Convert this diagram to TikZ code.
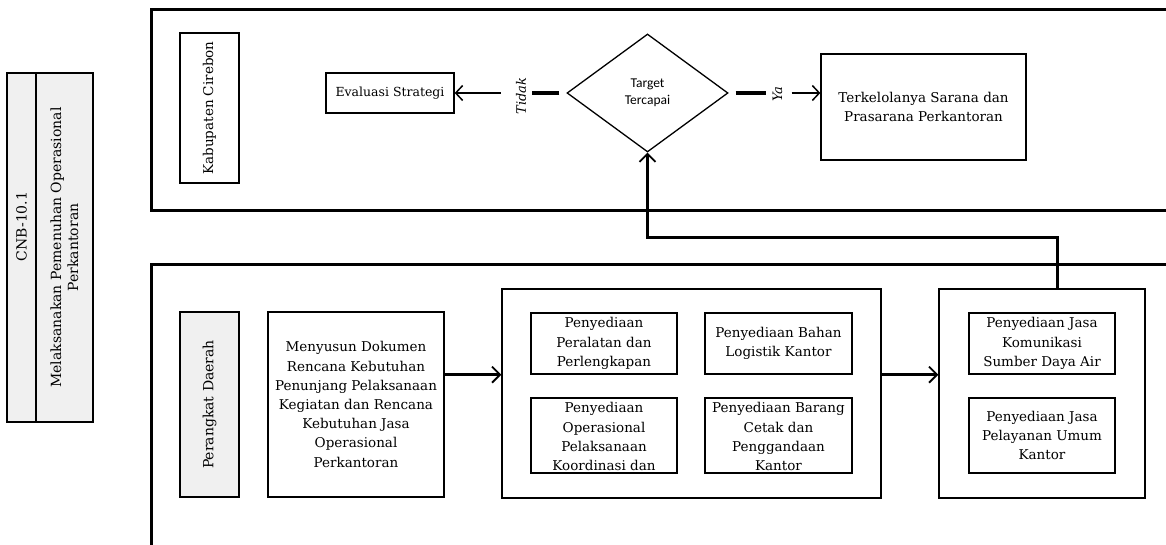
\documentclass[tikz,border=0pt]{standalone}
\usepackage{fontspec}
\setmainfont{DejaVu Serif}
\newfontfamily\diafont{Carlito}
\usetikzlibrary{shapes.geometric,arrows.meta,calc}
\newcommand\ovf[1]{\raisebox{-12pt}{\smash{\begin{tabular}{@{}c@{}}#1\end{tabular}}}}
\tikzset{
  box/.style={draw, line width=1.3pt, inner sep=2pt, align=center,
    font=\fontsize{13.5}{19.2}\selectfont},
  graybox/.style={box, fill=gray!12},
  lane/.style={line width=3pt},
  arr/.style={-{Straight Barb[length=7pt,width=15pt,line width=1.5pt]}, line width=1.5pt},
  bigarr/.style={-{Straight Barb[length=8pt,width=16pt,line width=1.8pt]}, line width=3pt},
  yesno/.style={line width=4pt},
  lbl/.style={rotate=90, inner sep=6pt, font=\itshape\fontsize{13}{15}\selectfont}
}
\begin{document}
\begin{tikzpicture}[x=1pt,y=-1pt]
\useasboundingbox (0,0) rectangle (1166,545);
% left title box
\node[graybox, rotate=90, minimum width=349pt, minimum height=29pt, font=\fontsize{14}{17}\selectfont] (cnbA) at (21.5,247.5) {\hspace*{42pt}CNB-10.1};
\node[graybox, rotate=90, minimum width=349pt, minimum height=57pt, font=\fontsize{14}{17}\selectfont] (cnbB) at (64.5,247.5) {Melaksanakan Pemenuhan Operasional\\Perkantoran};
% lanes
\draw[lane] (1180,10) -- (151,10) -- (151,211) -- (1180,211);
\draw[lane] (1180,264) -- (151,264) -- (151,560);
% top lane
\node[box, rotate=90, minimum width=150pt, minimum height=59pt, font=\fontsize{13.5}{17}\selectfont] (kab) at (209.5,108) {Kabupaten Cirebon};
\node[box, minimum width=128pt, minimum height=40pt, font=\fontsize{12.5}{17}\selectfont] (eval) at (390,93) {Evaluasi Strategi};
\node[diamond, draw, line width=1.3pt, minimum width=161pt, minimum height=118pt, inner sep=0pt, align=center, font=\diafont\fontsize{13.5}{17}\selectfont] (dia) at (647.5,93) {Target\\Tercapai};
\node[box, minimum width=205pt, minimum height=106pt] (terk) at (923.5,107) {Terkelolanya Sarana dan\\Prasarana Perkantoran};
\node[lbl] (tidak) at (521,96) {Tidak};
\node[lbl] (ya) at (777.5,94) {Ya};
\draw[yesno, shorten <=7pt] (dia.west) -- (tidak.south |- dia.west);
\draw[arr, shorten <=9pt] (tidak.north |- eval.east) -- (eval.east);
\draw[yesno, shorten <=7pt] (dia.east) -- (ya.north |- dia.east);
\draw[arr, shorten <=3pt] (ya.south |- dia.east) -- (terk.west |- dia.east);
% bottom lane
\node[graybox, rotate=90, minimum width=185pt, minimum height=59pt, font=\fontsize{14}{17}\selectfont] (per) at (209.5,404.5) {Perangkat Daerah};
\node[box, minimum width=176pt, minimum height=185pt] (meny) at (356,404.5) {Menyusun Dokumen\\Rencana Kebutuhan\\Penunjang Pelaksanaan\\Kegiatan dan Rencana\\Kebutuhan Jasa\\Operasional\\Perkantoran};
\node[box, minimum width=379pt, minimum height=209pt] (grp1) at (691.5,393.5) {};
\node[box, minimum width=146pt, minimum height=61pt] (b1) at (604,343.5) {Penyediaan\\Peralatan dan\\Perlengkapan};
\node[box, minimum width=147pt, minimum height=61pt] (b2) at (778.5,343.5) {Penyediaan Bahan\\Logistik Kantor};
\node[box, minimum width=146pt, minimum height=75pt] (b3) at (604,435.5) {\ovf{Penyediaan\\Operasional\\Pelaksanaan\\Koordinasi dan}};
\node[box, minimum width=147pt, minimum height=75pt] (b4) at (778.5,435.5) {\ovf{Penyediaan Barang\\Cetak dan\\Penggandaan\\Kantor}};
\node[box, minimum width=206pt, minimum height=209pt] (grp2) at (1042,393.5) {};
\node[box, minimum width=146pt, minimum height=61pt] (b5) at (1042,343.5) {Penyediaan Jasa\\Komunikasi\\Sumber Daya Air};
\node[box, minimum width=146pt, minimum height=75pt] (b6) at (1042,435.5) {Penyediaan Jasa\\Pelayanan Umum\\Kantor};
\draw[bigarr] (meny.east |- b1.south) -- (grp1.west |- b1.south);
\draw[bigarr] (grp1.east |- b1.south) -- (grp2.west |- b1.south);
\coordinate (fb) at (1057,238);
\draw[bigarr] (grp2.north -| fb) -- (fb) -| (dia.south);
\end{tikzpicture}
\end{document}
